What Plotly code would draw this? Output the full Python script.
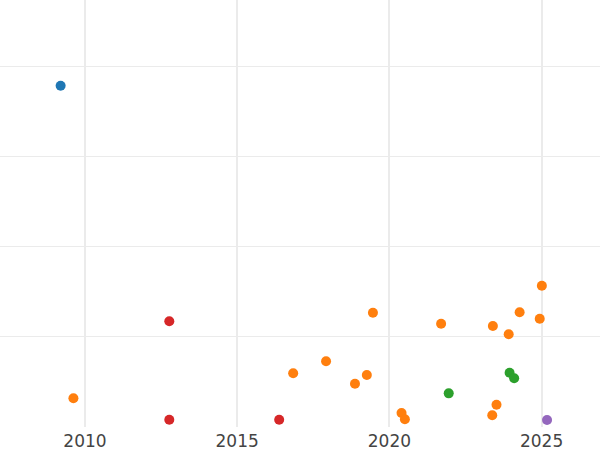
import plotly.graph_objects as go

# data (x = year, y = arbitrary units)
blue_x = [2009.20]
blue_y = [3.792]

orange_x = [2009.62, 2016.84, 2017.92, 2018.87, 2019.26, 2019.46, 2020.40, 2020.51,
            2021.70, 2023.38, 2023.40, 2023.52, 2023.92, 2024.28, 2024.94, 2025.01]
orange_y = [0.319, 0.597, 0.730, 0.481, 0.578, 1.270, 0.156, 0.086,
            1.148, 0.130, 1.122, 0.248, 1.030, 1.274, 1.203, 1.570]

green_x = [2021.95, 2023.95, 2024.10]
green_y = [0.374, 0.603, 0.541]

red_x = [2012.77, 2012.77, 2016.38]
red_y = [1.174, 0.081, 0.081]

purple_x = [2025.18]
purple_y = [0.078]

tick_vals = [2010, 2015, 2020, 2025]
tick_text = ["2010", "2015", "2020", "2025"]

series = [
    (blue_x, blue_y, "#1f77b4"),
    (orange_x, orange_y, "#ff7f0e"),
    (green_x, green_y, "#2ca02c"),
    (red_x, red_y, "#d62728"),
    (purple_x, purple_y, "#9467bd"),
]

fig = go.Figure()
for xs, ys, c in series:
    fig.add_trace(go.Scatter(x=xs, y=ys, mode="markers",
                             marker=dict(color=c, size=10, line=dict(width=0)),
                             showlegend=False, hoverinfo="skip"))

fig.update_layout(
    width=600, height=450,
    margin=dict(l=0, r=0, t=0, b=23),
    paper_bgcolor="white", plot_bgcolor="white",
    hovermode=False,
    font=dict(family="DejaVu Sans", size=17, color="#444"),
    xaxis=dict(range=[2007.208, 2026.92], tickvals=tick_vals, ticktext=tick_text,
               showgrid=True, gridcolor="#ebebeb", gridwidth=2,
               zeroline=False, showline=False, ticks="", ticklabelstandoff=2),
    yaxis=dict(range=[0, 4.744], tickvals=[1, 2, 3, 4], showticklabels=False,
               showgrid=True, gridcolor="#ebebeb", gridwidth=1,
               zeroline=False, showline=False, ticks=""),
)

fig.write_html("out.html", config={"displayModeBar": False},
               post_script="document.body.style.margin='0';document.body.style.overflow='hidden';")
